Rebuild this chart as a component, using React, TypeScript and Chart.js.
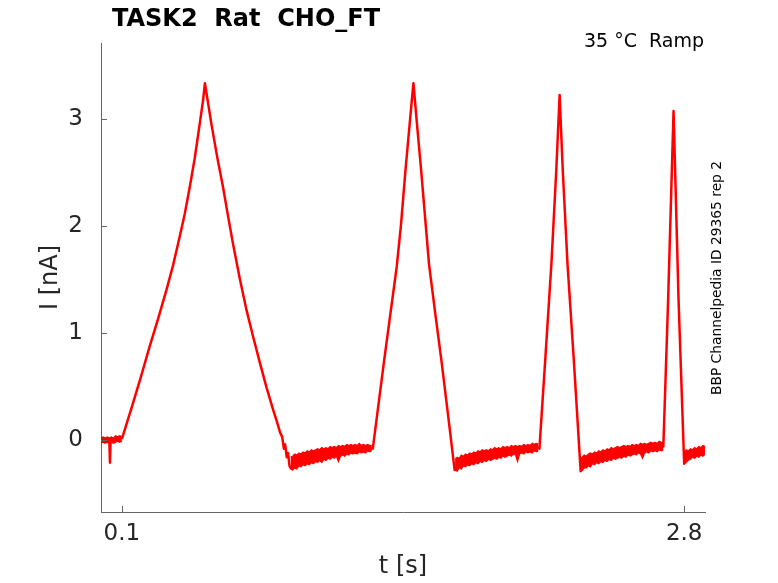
import { useEffect, useRef } from 'react'
import { Chart, registerables, type ChartConfiguration, type Plugin } from 'chart.js'

Chart.register(...registerables)

const chartTitle = 'TASK2  Rat  CHO_FT'
const conditionLabel = '35 °C  Ramp'
const sourceLabel = 'BBP Channelpedia ID 29365 rep 2'

const xTicks = [0.1, 2.8]
const yTicks = [0, 1, 2, 3]

// main trace: time [s] / current [nA]
const timeS = [
  0, 0.04, 0.043, 0.046, 0.102,
  0.153, 0.193, 0.233, 0.274, 0.314, 0.346, 0.378, 0.402, 0.426, 0.45, 0.474, 0.49, 0.499,
  0.53, 0.558, 0.586, 0.61, 0.634, 0.666, 0.699, 0.731, 0.763, 0.795, 0.827, 0.845, 0.86, 0.87,
  0.878, 0.884, 0.892, 0.898, 0.905, 0.91,
  1.0, 1.1, 1.2, 1.3,
  1.305, 1.36, 1.42, 1.44, 1.462, 1.482, 1.5, 1.518, 1.537, 1.556, 1.575, 1.605, 1.634, 1.666, 1.698,
  1.75, 1.85, 1.95, 2.05, 2.102,
  2.105, 2.133, 2.163, 2.186, 2.202, 2.217, 2.24, 2.27, 2.303,
  2.35, 2.45, 2.55, 2.65, 2.7,
  2.723, 2.749, 2.773, 2.8,
  2.85, 2.9,
]

const currentNA = [
  0, 0, -0.21, 0, 0.02,
  0.34, 0.6, 0.87, 1.13, 1.4, 1.63, 1.9, 2.11, 2.36, 2.63, 2.95, 3.17, 3.33,
  2.95, 2.64, 2.36, 2.09, 1.83, 1.51, 1.21, 0.96, 0.72, 0.49, 0.28, 0.17, 0.07, 0.03,
  -0.08, -0.04, -0.16, -0.12, -0.24, -0.26,
  -0.16, -0.12, -0.09, -0.075,
  -0.08, 0.75, 1.62, 2.0, 2.52, 2.95, 3.33, 2.93, 2.52, 2.08, 1.64, 1.18, 0.75, 0.24, -0.28,
  -0.19, -0.14, -0.1, -0.08, -0.07,
  -0.08, 0.75, 1.66, 2.52, 3.22, 2.52, 1.64, 0.75, -0.29,
  -0.19, -0.13, -0.09, -0.06, -0.06,
  1.31, 3.07, 1.31, -0.22,
  -0.12, -0.09,
]

// noisy baseline bands (overlaid repetitions): upper / lower edge
const holdTime = [0, 0.01, 0.02, 0.03, 0.04, 0.05, 0.06, 0.07, 0.08, 0.09, 0.1]
const holdUpper = [0.02, 0.03, 0.02, 0.03, 0.02, 0.03, 0.02, 0.04, 0.03, 0.04, 0.03]
const holdLower = [-0.03, -0.02, -0.03, -0.02, -0.03, -0.02, -0.03, -0.02, -0.01, -0.02, -0.01]

const base1Time = [
  0.91, 0.92, 0.93, 0.94, 0.95, 0.96, 0.97, 0.98, 0.99, 1.0, 1.01, 1.02, 1.03, 1.04, 1.05, 1.06,
  1.07, 1.08, 1.09, 1.1, 1.11, 1.12, 1.13, 1.14, 1.15, 1.16, 1.17, 1.18, 1.19, 1.2, 1.21, 1.22,
  1.23, 1.24, 1.25, 1.26, 1.27, 1.28, 1.29, 1.3,
]
const base1Upper = [
  -0.16, -0.15, -0.13, -0.14, -0.12, -0.13, -0.11, -0.12, -0.1, -0.11, -0.09, -0.1, -0.09, -0.08,
  -0.09, -0.07, -0.08, -0.07, -0.08, -0.06, -0.07, -0.06, -0.07, -0.05, -0.06, -0.05, -0.06, -0.04,
  -0.05, -0.04, -0.05, -0.04, -0.05, -0.03, -0.05, -0.04, -0.05, -0.04, -0.05, -0.05,
]
const base1Lower = [
  -0.27, -0.28, -0.26, -0.27, -0.24, -0.25, -0.23, -0.24, -0.22, -0.23, -0.21, -0.22, -0.2, -0.21,
  -0.19, -0.21, -0.18, -0.19, -0.17, -0.18, -0.16, -0.17, -0.15, -0.2, -0.15, -0.14, -0.15, -0.13,
  -0.14, -0.12, -0.13, -0.12, -0.13, -0.11, -0.12, -0.11, -0.12, -0.1, -0.11, -0.1,
]

const base2Time = [
  1.7, 1.71, 1.72, 1.73, 1.74, 1.75, 1.76, 1.77, 1.78, 1.79, 1.8, 1.81, 1.82, 1.83, 1.84, 1.85,
  1.86, 1.87, 1.88, 1.89, 1.9, 1.91, 1.92, 1.93, 1.94, 1.95, 1.96, 1.97, 1.98, 1.99, 2.0, 2.01,
  2.02, 2.03, 2.04, 2.05, 2.06, 2.07, 2.08, 2.09, 2.1,
]
const base2Upper = [
  -0.18, -0.16, -0.17, -0.14, -0.15, -0.13, -0.14, -0.12, -0.13, -0.11, -0.12, -0.1, -0.11, -0.09,
  -0.1, -0.09, -0.1, -0.08, -0.09, -0.07, -0.08, -0.07, -0.08, -0.06, -0.07, -0.06, -0.07, -0.05,
  -0.06, -0.05, -0.06, -0.05, -0.06, -0.04, -0.05, -0.04, -0.05, -0.03, -0.04, -0.03, -0.04,
]
const base2Lower = [
  -0.28, -0.29, -0.26, -0.27, -0.24, -0.25, -0.23, -0.24, -0.22, -0.23, -0.21, -0.22, -0.2, -0.21,
  -0.19, -0.2, -0.18, -0.19, -0.18, -0.17, -0.18, -0.16, -0.17, -0.15, -0.16, -0.15, -0.14, -0.15,
  -0.13, -0.14, -0.2, -0.13, -0.12, -0.13, -0.11, -0.12, -0.11, -0.12, -0.1, -0.11, -0.1,
]

const base3Time = [
  2.3, 2.31, 2.32, 2.33, 2.34, 2.35, 2.36, 2.37, 2.38, 2.39, 2.4, 2.41, 2.42, 2.43, 2.44, 2.45,
  2.46, 2.47, 2.48, 2.49, 2.5, 2.51, 2.52, 2.53, 2.54, 2.55, 2.56, 2.57, 2.58, 2.59, 2.6, 2.61,
  2.62, 2.63, 2.64, 2.65, 2.66, 2.67, 2.68, 2.69, 2.7,
]
const base3Upper = [
  -0.17, -0.16, -0.14, -0.15, -0.13, -0.12, -0.13, -0.11, -0.12, -0.1, -0.11, -0.09, -0.1, -0.08,
  -0.09, -0.07, -0.08, -0.07, -0.06, -0.07, -0.06, -0.05, -0.06, -0.05, -0.06, -0.04, -0.05, -0.04,
  -0.05, -0.03, -0.04, -0.03, -0.04, -0.03, -0.02, -0.03, -0.02, -0.03, -0.01, -0.02, -0.03,
]
const base3Lower = [
  -0.27, -0.28, -0.25, -0.26, -0.24, -0.25, -0.22, -0.23, -0.21, -0.22, -0.2, -0.21, -0.19, -0.2,
  -0.18, -0.19, -0.17, -0.18, -0.17, -0.16, -0.17, -0.15, -0.16, -0.14, -0.15, -0.14, -0.13, -0.14,
  -0.12, -0.13, -0.17, -0.12, -0.11, -0.12, -0.1, -0.11, -0.1, -0.11, -0.09, -0.1, -0.09,
]

const base4Time = [2.8, 2.81, 2.82, 2.83, 2.84, 2.85, 2.86, 2.87, 2.88, 2.89, 2.9]
const base4Upper = [-0.12, -0.09, -0.1, -0.08, -0.09, -0.07, -0.08, -0.06, -0.07, -0.05, -0.06]
const base4Lower = [-0.21, -0.19, -0.17, -0.18, -0.16, -0.17, -0.15, -0.16, -0.14, -0.15, -0.13]

const bands: [number[], number[], number[]][] = [
  [holdTime, holdUpper, holdLower],
  [base1Time, base1Upper, base1Lower],
  [base2Time, base2Upper, base2Lower],
  [base3Time, base3Upper, base3Lower],
  [base4Time, base4Upper, base4Lower],
]

const traceColor = '#ff0000'
const axisColor = '#666666'
const labelColor = '#262626'

// ticks pointing into the plot area + the free text round the axes
const decorPlugin: Plugin<'line'> = {
  id: 'decor',
  afterDraw(chart) {
    const { ctx, chartArea } = chart
    const xScale = chart.scales.x
    const yScale = chart.scales.y
    ctx.save()
    ctx.strokeStyle = axisColor
    ctx.lineWidth = 1
    ctx.beginPath()
    xTicks.forEach((v) => {
      const px = Math.round(xScale.getPixelForValue(v)) + 0.5
      ctx.moveTo(px, chartArea.bottom)
      ctx.lineTo(px, chartArea.bottom - 6)
    })
    yTicks.forEach((v) => {
      const py = Math.round(yScale.getPixelForValue(v)) + 0.5
      ctx.moveTo(chartArea.left, py)
      ctx.lineTo(chartArea.left + 6, py)
    })
    ctx.stroke()

    ctx.fillStyle = '#000000'
    ctx.textBaseline = 'alphabetic'
    ctx.textAlign = 'center'
    ctx.font = 'bold 24px "DejaVu Sans"'
    ctx.fillText(chartTitle, 246, 26)

    ctx.textAlign = 'right'
    ctx.font = '19px "DejaVu Sans"'
    ctx.fillText(conditionLabel, 704, 47)

    ctx.translate(720.5, 278)
    ctx.rotate(-Math.PI / 2)
    ctx.textAlign = 'center'
    ctx.font = '13.8px "DejaVu Sans"'
    ctx.fillText(sourceLabel, 0, 0)
    ctx.restore()
  },
}

export default function App() {
  const canvasRef = useRef<HTMLCanvasElement>(null)
  const chartRef = useRef<Chart<'line'> | null>(null)

  useEffect(() => {
    if (!canvasRef.current) return
    if (chartRef.current) chartRef.current.destroy()

    Chart.defaults.font.family = '"DejaVu Sans"'

    const toPoints = (xs: number[], ys: number[]) => xs.map((x, i) => ({ x, y: ys[i] }))

    const bandSets = bands.flatMap(([t, hi, lo]) => [
      {
        data: toPoints(t, hi),
        borderColor: traceColor,
        borderWidth: 1.2,
        pointRadius: 0,
        fill: false,
      },
      {
        data: toPoints(t, lo),
        borderColor: traceColor,
        backgroundColor: traceColor,
        borderWidth: 1.2,
        pointRadius: 0,
        fill: '-1',
      },
    ])

    const config: ChartConfiguration<'line'> = {
      type: 'line',
      data: {
        datasets: [
          {
            data: toPoints(timeS, currentNA),
            borderColor: traceColor,
            borderWidth: 2.5,
            pointRadius: 0,
            tension: 0,
            fill: false,
            borderJoinStyle: 'round',
          },
          ...bandSets,
        ],
      },
      options: {
        animation: false,
        responsive: true,
        maintainAspectRatio: false,
        layout: { padding: { top: 43, right: 73, left: 0, bottom: 0 } },
        plugins: {
          legend: { display: false },
          tooltip: { enabled: false },
        },
        scales: {
          x: {
            type: 'linear',
            min: 0,
            max: 2.9,
            afterBuildTicks: (scale) => {
              scale.ticks = xTicks.map((value) => ({ value }))
            },
            afterFit: (scale) => {
              scale.height = 71
            },
            grid: { display: false, drawTicks: false },
            border: { display: true, color: axisColor, width: 1 },
            ticks: {
              color: labelColor,
              font: { size: 23 },
              padding: 8,
              maxRotation: 0,
              autoSkip: false,
              callback: (value) => String(value),
            },
            title: {
              display: true,
              text: 't [s]',
              color: labelColor,
              font: { size: 24 },
              padding: { top: 0, bottom: 2 },
            },
          },
          y: {
            type: 'linear',
            min: -0.671,
            max: 3.705,
            afterBuildTicks: (scale) => {
              scale.ticks = yTicks.map((value) => ({ value }))
            },
            afterFit: (scale) => {
              scale.width = 101
            },
            grid: { display: false, drawTicks: false },
            border: { display: true, color: axisColor, width: 1 },
            ticks: {
              color: labelColor,
              font: { size: 23 },
              padding: 18,
              autoSkip: false,
              callback: (value) => String(value),
            },
            title: {
              display: true,
              text: 'I [nA]',
              color: labelColor,
              font: { size: 24 },
              padding: { top: 36, bottom: 0 },
            },
          },
        },
      },
      plugins: [decorPlugin],
    }

    chartRef.current = new Chart(canvasRef.current, config)

    return () => {
      if (chartRef.current) {
        chartRef.current.destroy()
        chartRef.current = null
      }
    }
  }, [])

  return (
    <div style={{ position: 'fixed', left: 0, top: 0, width: 778, height: 583, background: '#ffffff' }}>
      <canvas ref={canvasRef} />
    </div>
  )
}
